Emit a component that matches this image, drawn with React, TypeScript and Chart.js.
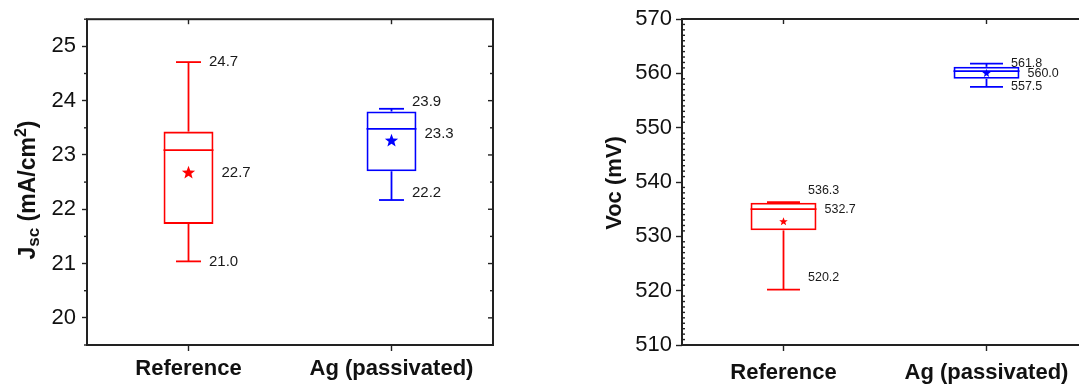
import React, { useEffect, useRef } from "react";
import { Chart, registerables } from "chart.js";
Chart.register(...registerables);

// ---------- data ----------
const categories = ["Reference", "Ag (passivated)"];
const seriesColors = ["#ff0000", "#0000ff"];

const jscMin = [21.04, 22.17];
const jscQ1 = [21.73, 22.7];
const jscMedian = [23.09, 23.48];
const jscQ3 = [23.43, 23.8];
const jscMax = [24.71, 23.85];
const jscMean = [22.67, 23.26];
const jscMaxLabels = ["24.7", "23.9"];
const jscMeanLabels = ["22.7", "23.3"];
const jscMinLabels = ["21.0", "22.2"];
const jscTicks = [20, 21, 22, 23, 24, 25];

const vocMin = [520.2, 557.5];
const vocQ1 = [531.1, 559.0];
const vocMedian = [535.0, 560.4];
const vocQ3 = [536.2, 561.2];
const vocMax = [536.3, 561.8];
const vocMean = [532.7, 560.0];
const vocMaxLabels = ["536.3", "561.8"];
const vocMeanLabels = ["532.7", "560.0"];
const vocMinLabels = ["520.2", "557.5"];
const vocTicks = [510, 520, 530, 540, 550, 560, 570];

// ---------- helpers ----------
const FONT = "'Liberation Sans', Arial, sans-serif";
const AXIS = "#222222";

type Run = { text: string; size: number; dy: number };

type Spec = {
  min: number[];
  q1: number[];
  median: number[];
  q3: number[];
  max: number[];
  mean: number[];
  maxLabels: string[];
  meanLabels: string[];
  minLabels: string[];
  ticks: number[];
  yMin: number;
  yMax: number;
  minorStep: number;
  axisWidth: number;
  padTop: number;
  padRight: number;
  barFrac: number;
  labelSize: number;
  labelShift: number[];
  starR: number;
  leftMajorLen: number;
  leftMinorLen: number;
  leftMinorInward: boolean;
  tickPad: number;
  xLabelPad: number;
  rightAxis: boolean;
  titleRuns: Run[];
  titleX: number;
  titleY: number;
};

function drawStar(ctx: CanvasRenderingContext2D, cx: number, cy: number, R: number) {
  const r = R * 0.42;
  ctx.beginPath();
  for (let k = 0; k < 10; k++) {
    const ang = -Math.PI / 2 + (k * Math.PI) / 5;
    const rad = k % 2 === 0 ? R : r;
    ctx.lineTo(cx + rad * Math.cos(ang), cy + rad * Math.sin(ang));
  }
  ctx.closePath();
  ctx.fill();
}

function line(ctx: CanvasRenderingContext2D, x1: number, y1: number, x2: number, y2: number) {
  ctx.beginPath();
  ctx.moveTo(x1, y1);
  ctx.lineTo(x2, y2);
  ctx.stroke();
}

function makePlugin(spec: Spec) {
  return {
    id: "boxExtras",
    afterDatasetsDraw(chart: any) {
      const ctx: CanvasRenderingContext2D = chart.ctx;
      const { left, right, top, bottom } = chart.chartArea;
      const ys = chart.scales.y;
      const xs = chart.scales.x;
      const meta = chart.getDatasetMeta(0);
      ctx.save();

      // box plot extras
      spec.q1.forEach((_, i) => {
        const bar = meta.data[i];
        const cx = bar.x;
        const halfW = bar.width / 2;
        const capHalf = halfW / 2;
        const col = seriesColors[i];
        const pMin = ys.getPixelForValue(spec.min[i]);
        const pMax = ys.getPixelForValue(spec.max[i]);
        const pQ1 = ys.getPixelForValue(spec.q1[i]);
        const pQ3 = ys.getPixelForValue(spec.q3[i]);
        const pMed = ys.getPixelForValue(spec.median[i]);
        const pMean = ys.getPixelForValue(spec.mean[i]);
        ctx.strokeStyle = col;
        ctx.fillStyle = col;
        ctx.lineWidth = 1.8;
        line(ctx, cx, pQ3, cx, pMax);
        line(ctx, cx, pQ1, cx, pMin);
        line(ctx, cx - capHalf, pMax, cx + capHalf, pMax);
        line(ctx, cx - capHalf, pMin, cx + capHalf, pMin);
        line(ctx, cx - halfW, pMed, cx + halfW, pMed);
        drawStar(ctx, cx, pMean, spec.starR);

        ctx.fillStyle = "#1a1a1a";
        ctx.font = `${spec.labelSize}px ${FONT}`;
        ctx.textAlign = "left";
        ctx.textBaseline = "middle";
        const sh = spec.labelShift[i];
        ctx.fillText(spec.maxLabels[i], cx + capHalf + 8, pMax + sh);
        ctx.fillText(spec.meanLabels[i], cx + halfW + 8, pMean + sh);
        ctx.fillText(spec.minLabels[i], cx + capHalf + 8, pMin + sh);
      });

      // frame
      ctx.strokeStyle = AXIS;
      ctx.lineWidth = 2;
      ctx.strokeRect(left, top, right - left, bottom - top);

      // minor ticks + right axis ticks
      ctx.lineWidth = 1.4;
      const eps = 1e-6;
      for (let v = spec.yMin; v <= spec.yMax + eps; v += spec.minorStep) {
        const isMajor = spec.ticks.some((t) => Math.abs(t - v) < eps);
        const py = ys.getPixelForValue(v);
        if (!isMajor) {
          if (spec.leftMinorInward) line(ctx, left, py, left + spec.leftMinorLen, py);
          else line(ctx, left, py, left - spec.leftMinorLen, py);
        }
        if (spec.rightAxis) {
          const len = isMajor ? 5 : 3;
          if (v > spec.yMin + eps && v < spec.yMax - eps) line(ctx, right, py, right - len, py);
        }
      }
      // top axis ticks at categories (inward)
      categories.forEach((_, i) => {
        const px = xs.getPixelForValue(i);
        line(ctx, px, top, px, top + 5);
      });

      // y title with sub/superscripts
      ctx.save();
      ctx.translate(spec.titleX, spec.titleY);
      ctx.rotate(-Math.PI / 2);
      ctx.fillStyle = "#111";
      ctx.textAlign = "left";
      ctx.textBaseline = "alphabetic";
      let total = 0;
      spec.titleRuns.forEach((r) => {
        ctx.font = `bold ${r.size}px ${FONT}`;
        total += ctx.measureText(r.text).width;
      });
      let pos = -total / 2;
      const base = spec.titleRuns[0].size * 0.36;
      spec.titleRuns.forEach((r) => {
        ctx.font = `bold ${r.size}px ${FONT}`;
        ctx.fillText(r.text, pos, base + r.dy);
        pos += ctx.measureText(r.text).width;
      });
      ctx.restore();

      ctx.restore();
    },
  };
}

function BoxChart({ spec, left, width }: { spec: Spec; left: number; width: number }) {
  const ref = useRef<HTMLCanvasElement>(null);
  useEffect(() => {
    if (!ref.current) return;
    const chart = new Chart(ref.current, {
      type: "bar",
      data: {
        labels: categories,
        datasets: [
          {
            data: spec.q1.map((v, i) => [v, spec.q3[i]]) as any,
            backgroundColor: "rgba(0,0,0,0)",
            borderColor: seriesColors,
            borderWidth: 1.8,
            borderSkipped: false,
            barPercentage: spec.barFrac,
            categoryPercentage: 1,
          },
        ],
      },
      options: {
        animation: false,
        responsive: false,
        devicePixelRatio: 1,
        layout: { padding: { left: 0, right: spec.padRight, top: spec.padTop, bottom: 0 } },
        plugins: { legend: { display: false }, tooltip: { enabled: false } },
        scales: {
          x: {
            type: "category",
            offset: true,
            grid: {
              display: true,
              offset: false,
              drawOnChartArea: false,
              drawTicks: true,
              tickLength: 6,
              tickColor: AXIS,
              tickWidth: 1.4,
            },
            border: { display: false },
            ticks: {
              padding: spec.xLabelPad,
              color: "#111",
              font: { family: FONT, size: 22, weight: "bold" },
              maxRotation: 0,
              autoSkip: false,
            },
            afterFit: (s: any) => {
              s.height = 40;
            },
          },
          y: {
            type: "linear",
            min: spec.yMin,
            max: spec.yMax,
            grid: {
              display: true,
              drawOnChartArea: false,
              drawTicks: true,
              tickLength: spec.leftMajorLen,
              tickColor: AXIS,
              tickWidth: 1.4,
            },
            border: { display: false },
            ticks: {
              padding: spec.tickPad,
              color: "#111",
              font: { family: FONT, size: 22 },
            },
            afterBuildTicks: (s: any) => {
              s.ticks = spec.ticks.map((v) => ({ value: v }));
            },
            afterFit: (s: any) => {
              s.width = spec.axisWidth;
            },
          },
        },
      },
      plugins: [makePlugin(spec)],
    });
    return () => chart.destroy();
  }, [spec]);
  return (
    <div style={{ position: "absolute", left, top: 0, width, height: 385 }}>
      <canvas ref={ref} width={width} height={385} style={{ display: "block" }} />
    </div>
  );
}

const jscSpec: Spec = {
  min: jscMin,
  q1: jscQ1,
  median: jscMedian,
  q3: jscQ3,
  max: jscMax,
  mean: jscMean,
  maxLabels: jscMaxLabels,
  meanLabels: jscMeanLabels,
  minLabels: jscMinLabels,
  ticks: jscTicks,
  yMin: 19.5,
  yMax: 25.5,
  minorStep: 0.5,
  axisWidth: 87,
  padTop: 18,
  padRight: 47,
  barFrac: 0.246,
  labelSize: 15,
  labelShift: [0, -7],
  starR: 7,
  leftMajorLen: 5,
  leftMinorLen: 3,
  leftMinorInward: false,
  tickPad: 6,
  xLabelPad: 5,
  rightAxis: true,
  titleRuns: [
    { text: "J", size: 23, dy: 0 },
    { text: "sc", size: 17, dy: 4 },
    { text: " (mA/cm", size: 23, dy: 0 },
    { text: "2", size: 16, dy: -9 },
    { text: ")", size: 23, dy: 0 },
  ],
  titleX: 27,
  titleY: 190,
};

const vocSpec: Spec = {
  min: vocMin,
  q1: vocQ1,
  median: vocMedian,
  q3: vocQ3,
  max: vocMax,
  mean: vocMean,
  maxLabels: vocMaxLabels,
  meanLabels: vocMeanLabels,
  minLabels: vocMinLabels,
  ticks: vocTicks,
  yMin: 510,
  yMax: 570,
  minorStep: 1,
  axisWidth: 142,
  padTop: 19,
  padRight: 12,
  barFrac: 0.325,
  labelSize: 12.5,
  labelShift: [-12, 0],
  starR: 4.5,
  leftMajorLen: 6,
  leftMinorLen: 3,
  leftMinorInward: true,
  tickPad: 4,
  xLabelPad: 9,
  rightAxis: false,
  titleRuns: [{ text: "Voc (mV)", size: 22, dy: 0 }],
  titleX: 73,
  titleY: 183,
};

export default function App() {
  return (
    <div
      style={{
        position: "fixed",
        left: 0,
        top: 0,
        width: 1079,
        height: 385,
        overflow: "hidden",
        background: "#ffffff",
      }}
    >
      <BoxChart spec={jscSpec} left={0} width={540} />
      <BoxChart spec={vocSpec} left={540} width={560} />
    </div>
  );
}
